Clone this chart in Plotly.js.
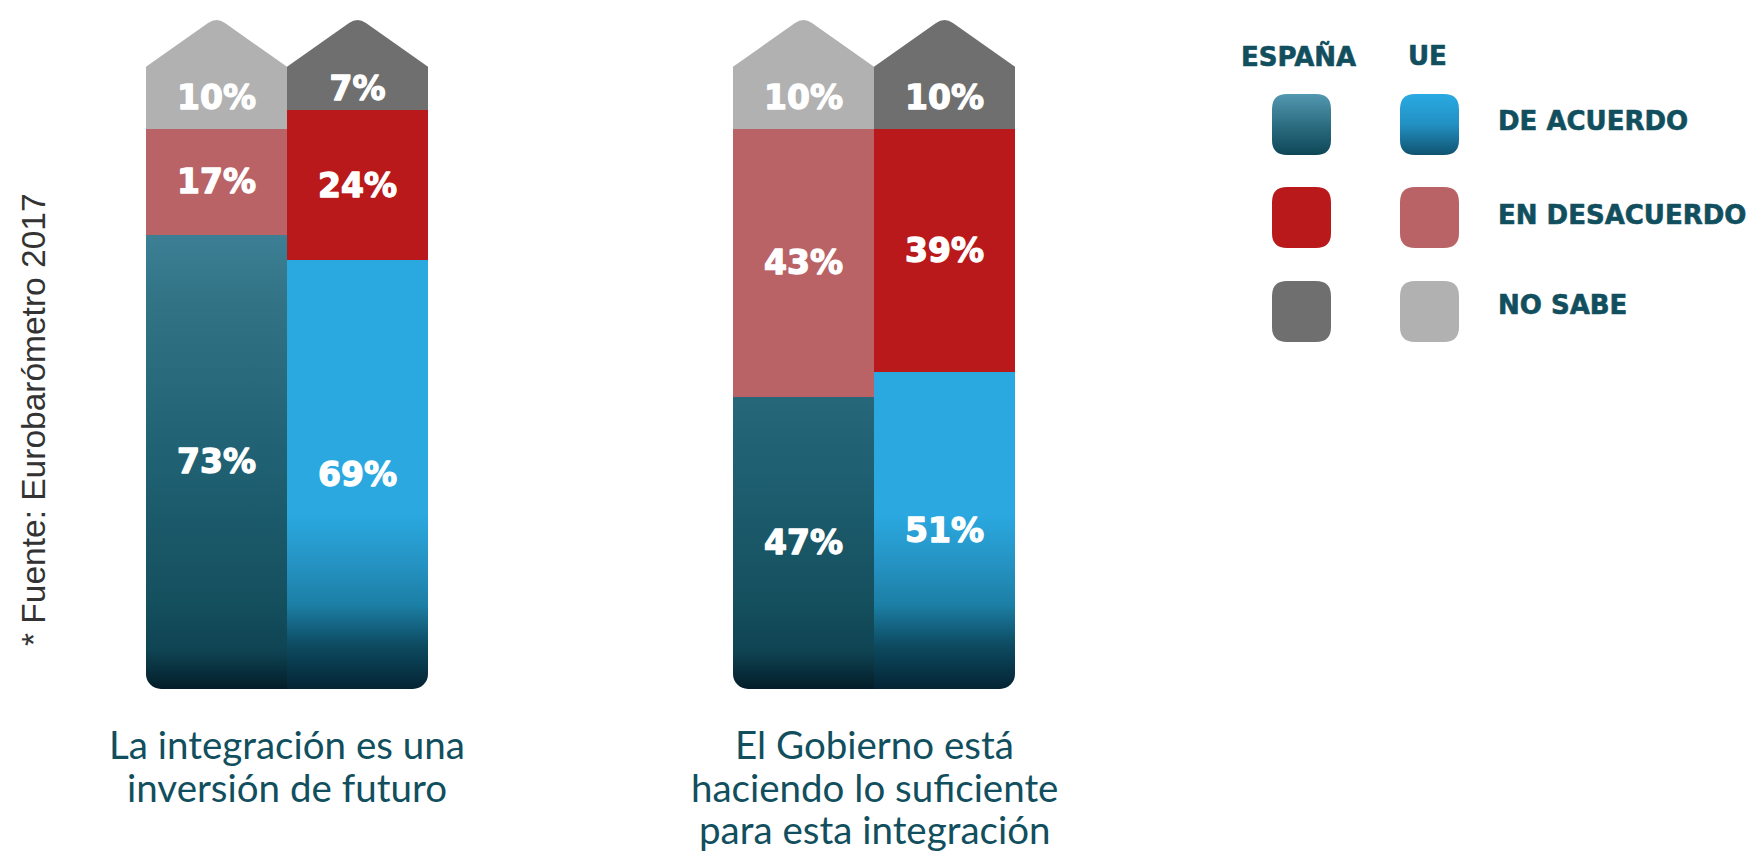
<!DOCTYPE html>
<html>
<head>
<meta charset="utf-8">
<script src="https://cdn.plot.ly/plotly-3.0.1.min.js"></script>
<style>
  html, body { margin: 0; padding: 0; background: #ffffff; }
  #chart { width: 1759px; height: 856px; }
</style>
</head>
<body>
<div id="chart"></div>
<script>
// ---------- data ----------
const groupLabels = ['La integración es una<br>inversión de futuro',
                     'El Gobierno está<br>haciendo lo suficiente<br>para esta integración'];
const regions = ['ESPAÑA', 'UE'];
const answers = ['DE ACUERDO', 'EN DESACUERDO', 'NO SABE'];
const sourceNote = '* Fuente: Eurobarómetro 2017';
// chart 1: "La integración es una inversión de futuro"  [España, UE]
const acuerdo1    = [73, 69];
const desacuerdo1 = [17, 24];
const nosabe1     = [10, 7];
// chart 2: "El Gobierno está haciendo lo suficiente..." [España, UE]
const acuerdo2    = [47, 51];
const desacuerdo2 = [43, 39];
const nosabe2     = [10, 10];

// ---------- styles ----------
const W = 1759, H = 856;
const TEAL_TXT = '#124f5e';
const colES = {acuerdo: '#3e8096', desacuerdo: '#ba6367', nosabe: '#b1b1b1'};
const colUE = {acuerdo: '#2aa9e1', desacuerdo: '#ba191b', nosabe: '#6f6f6f'};
const legES = ['#3e8096', '#ba191b', '#6f6f6f'];
const legUE = ['#2aaae2', '#ba6367', '#b1b1b1'];
const pos = [0, 1];

function barTrace(vals, cES, cUE, xa) {
  return {
    type: 'bar', x: pos, y: vals, xaxis: xa, yaxis: 'y',
    marker: {color: [cES, cUE], line: {width: 0}},
    text: vals.map(v => v + '%'),
    textposition: 'inside', insidetextanchor: 'middle', textangle: 0,
    constraintext: 'none',
    insidetextfont: {family: 'DejaVu Sans', size: 33, color: '#ffffff', weight: 700},
    hoverinfo: 'none', cliponaxis: false
  };
}

const data = [
  barTrace(acuerdo1, colES.acuerdo, colUE.acuerdo, 'x'),
  barTrace(desacuerdo1, colES.desacuerdo, colUE.desacuerdo, 'x'),
  barTrace(nosabe1, colES.nosabe, colUE.nosabe, 'x'),
  barTrace(acuerdo2, colES.acuerdo, colUE.acuerdo, 'x2'),
  barTrace(desacuerdo2, colES.desacuerdo, colUE.desacuerdo, 'x2'),
  barTrace(nosabe2, colES.nosabe, colUE.nosabe, 'x2')
];

// arrow caps on top of each stacked bar (base = stack total)
function capPath(c, base) {
  const h = 0.5, pk = 8;
  return 'M' + (c - h) + ',' + (base - 0.3) +
         ' L' + (c - h) + ',' + base +
         ' L' + (c - 0.06) + ',' + (base + pk * 0.88) +
         ' Q' + c + ',' + (base + pk) + ' ' + (c + 0.06) + ',' + (base + pk * 0.88) +
         ' L' + (c + h) + ',' + base +
         ' L' + (c + h) + ',' + (base - 0.3) + ' Z';
}
const shapes = [];
[[acuerdo1, desacuerdo1, nosabe1, 'x'], [acuerdo2, desacuerdo2, nosabe2, 'x2']].forEach(g => {
  pos.forEach((c, i) => {
    const total = g[0][i] + g[1][i] + g[2][i];
    shapes.push({type: 'path', xref: g[3], yref: 'y', path: capPath(c, total),
                 fillcolor: i === 0 ? colES.nosabe : colUE.nosabe, line: {width: 0}, layer: 'above'});
  });
});

// legend swatches (rounded squares, paper coords from pixels)
function rr(x0, y0, x1, y1, r) {
  const P = (x, y) => (x / W).toFixed(5) + ',' + (1 - y / H).toFixed(5);
  return 'M' + P(x0 + r, y0) + ' L' + P(x1 - r, y0) + ' Q' + P(x1, y0) + ' ' + P(x1, y0 + r) +
         ' L' + P(x1, y1 - r) + ' Q' + P(x1, y1) + ' ' + P(x1 - r, y1) +
         ' L' + P(x0 + r, y1) + ' Q' + P(x0, y1) + ' ' + P(x0, y1 - r) +
         ' L' + P(x0, y0 + r) + ' Q' + P(x0, y0) + ' ' + P(x0 + r, y0) + ' Z';
}
const legRowsY = [94, 187, 281];
const legColsX = [1272, 1400];
legRowsY.forEach((yy, r) => {
  [legES, legUE].forEach((cols, c) => {
    shapes.push({type: 'path', xref: 'paper', yref: 'paper',
                 path: rr(legColsX[c], yy, legColsX[c] + 59, yy + 61, 15),
                 fillcolor: cols[r], line: {width: 0}, layer: 'above'});
  });
});

const legFont = {family: 'DejaVu Sans', size: 26, color: TEAL_TXT, weight: 700};
const headFont = {family: 'DejaVu Sans', size: 26, color: TEAL_TXT, weight: 700};
const annotations = [
  {text: regions[0], xref: 'paper', yref: 'paper', x: 1298 / W, y: 1 - 56 / H,
   xanchor: 'center', yanchor: 'middle', showarrow: false, font: headFont},
  {text: regions[1], xref: 'paper', yref: 'paper', x: 1427 / W, y: 1 - 56 / H,
   xanchor: 'center', yanchor: 'middle', showarrow: false, font: headFont},
  {text: answers[0], xref: 'paper', yref: 'paper', x: 1496 / W, y: 1 - 121 / H,
   xanchor: 'left', yanchor: 'middle', showarrow: false, font: legFont},
  {text: answers[1], xref: 'paper', yref: 'paper', x: 1496 / W, y: 1 - 215 / H,
   xanchor: 'left', yanchor: 'middle', showarrow: false, font: legFont},
  {text: answers[2], xref: 'paper', yref: 'paper', x: 1496 / W, y: 1 - 305 / H,
   xanchor: 'left', yanchor: 'middle', showarrow: false, font: legFont},
  {text: sourceNote, xref: 'paper', yref: 'paper', x: 33 / W, y: 1 - 420 / H,
   xanchor: 'center', yanchor: 'middle', textangle: -90, showarrow: false,
   font: {family: 'Liberation Sans', size: 33.5, color: '#333333'}}
];
// category labels, one annotation per line (line spacing as in reference)
const lineCenters = [744, 787, 829];
['x', 'x2'].forEach((xr, k) => {
  groupLabels[k].split('<br>').forEach((line, j) => {
    annotations.push({text: line, xref: xr, yref: 'paper', x: 0.5, y: 1 - lineCenters[j] / H,
      xanchor: 'center', yanchor: 'middle', showarrow: false, borderpad: 0,
      font: {family: 'Lato', size: 38.5, color: TEAL_TXT}});
  });
});

const layout = {
  width: W, height: H,
  margin: {l: 0, r: 0, t: 0, b: 0, pad: 0},
  paper_bgcolor: '#ffffff', plot_bgcolor: 'rgba(0,0,0,0)',
  showlegend: false, barmode: 'stack', bargap: 0,
  xaxis:  {domain: [146 / W, 428 / W], range: [-0.5, 1.5], visible: false, fixedrange: true},
  xaxis2: {domain: [733 / W, 1015 / W], range: [-0.5, 1.5], visible: false, anchor: 'y', fixedrange: true},
  yaxis:  {domain: [(H - 689) / H, (H - 17) / H], range: [0, 108], visible: false, fixedrange: true},
  shapes: shapes,
  annotations: annotations
};

const gd = document.getElementById('chart');
Plotly.newPlot(gd, data, layout, {staticPlot: true, displayModeBar: false}).then(decorate);

function decorate() {
  const NS = 'http://www.w3.org/2000/svg';
  const svg = gd.querySelector('svg.main-svg');
  let defs = svg.querySelector('defs');
  if (!defs) { defs = document.createElementNS(NS, 'defs'); svg.insertBefore(defs, svg.firstChild); }
  const fl = gd._fullLayout;
  const ya = fl.yaxis;
  const yOff = ya._offset;

  function grad(id, stops, user) {
    const g = document.createElementNS(NS, 'linearGradient');
    g.setAttribute('id', id);
    g.setAttribute('x1', 0); g.setAttribute('x2', 0);
    if (user) {
      g.setAttribute('gradientUnits', 'userSpaceOnUse');
      g.setAttribute('y1', stops[0][0] - yOff);
      g.setAttribute('y2', stops[stops.length - 1][0] - yOff);
      const a = stops[0][0], b = stops[stops.length - 1][0];
      stops.forEach(s => {
        const st = document.createElementNS(NS, 'stop');
        st.setAttribute('offset', (s[0] - a) / (b - a));
        st.setAttribute('stop-color', s[1]);
        g.appendChild(st);
      });
    } else {
      g.setAttribute('y1', 0); g.setAttribute('y2', 1);
      stops.forEach(s => {
        const st = document.createElementNS(NS, 'stop');
        st.setAttribute('offset', s[0]);
        st.setAttribute('stop-color', s[1]);
        g.appendChild(st);
      });
    }
    defs.appendChild(g);
  }
  // screen-y based stops
  grad('gES', [[180, '#4588a0'], [300, '#327486'], [450, '#206274'], [600, '#15505f'],
               [650, '#0f4453'], [689, '#031d29']], true);
  grad('gUE', [[240, '#2aa9e1'], [515, '#2aa8df'], [565, '#2592c2'], [605, '#1c7fa5'],
               [645, '#0d4b61'], [689, '#042434']], true);
  grad('gLES', [[0, '#5298b0'], [0.55, '#2a6a7e'], [1, '#0d4757']], false);
  grad('gLUE', [[0, '#2aaae3'], [0.5, '#2290c2'], [1, '#0f5370']], false);

  const norm = s => (s || '').replace(/\s/g, '');
  gd.querySelectorAll('.barlayer .point path').forEach(p => {
    const f = norm(p.style.fill);
    if (f === 'rgb(62,128,150)') p.style.fill = 'url(#gES)';
    else if (f === 'rgb(42,169,225)') p.style.fill = 'url(#gUE)';
  });
  gd.querySelectorAll('.shapelayer path').forEach(p => {
    const f = norm(p.style.fill);
    if (f === 'rgb(62,128,150)') p.style.fill = 'url(#gLES)';
    else if (f === 'rgb(42,170,226)') p.style.fill = 'url(#gLUE)';
  });
  // heavier bar labels
  gd.querySelectorAll('.barlayer text').forEach(t => {
    t.style.stroke = '#ffffff';
    t.style.strokeWidth = '1.3px';
    t.style.strokeLinejoin = 'round';
  });
  // legend text slightly heavier
  gd.querySelectorAll('.annotation-text').forEach(t => {
    if (/DejaVu/.test(t.style.fontFamily)) {
      t.style.stroke = TEAL_TXT; t.style.strokeWidth = '0.6px'; t.style.strokeLinejoin = 'round';
    }
  });

  // round bottom corners of the bar stacks
  ['xy', 'x2y'].forEach((sp, k) => {
    const layer = gd.querySelector('.subplot.' + sp + ' .barlayer');
    if (!layer) return;
    const xa = k === 0 ? fl.xaxis : fl.xaxis2;
    const cp = document.createElementNS(NS, 'clipPath');
    cp.setAttribute('id', 'clipBars' + k);
    const r = document.createElementNS(NS, 'rect');
    const bottom = ya.l2p(0);
    r.setAttribute('x', xa.l2p(-0.5));
    r.setAttribute('width', xa.l2p(1.5) - xa.l2p(-0.5));
    r.setAttribute('y', -200);
    r.setAttribute('height', bottom + 200);
    r.setAttribute('rx', 15); r.setAttribute('ry', 15);
    cp.appendChild(r);
    defs.appendChild(cp);
    layer.setAttribute('clip-path', 'url(#clipBars' + k + ')');
  });
}
</script>
</body>
</html>
